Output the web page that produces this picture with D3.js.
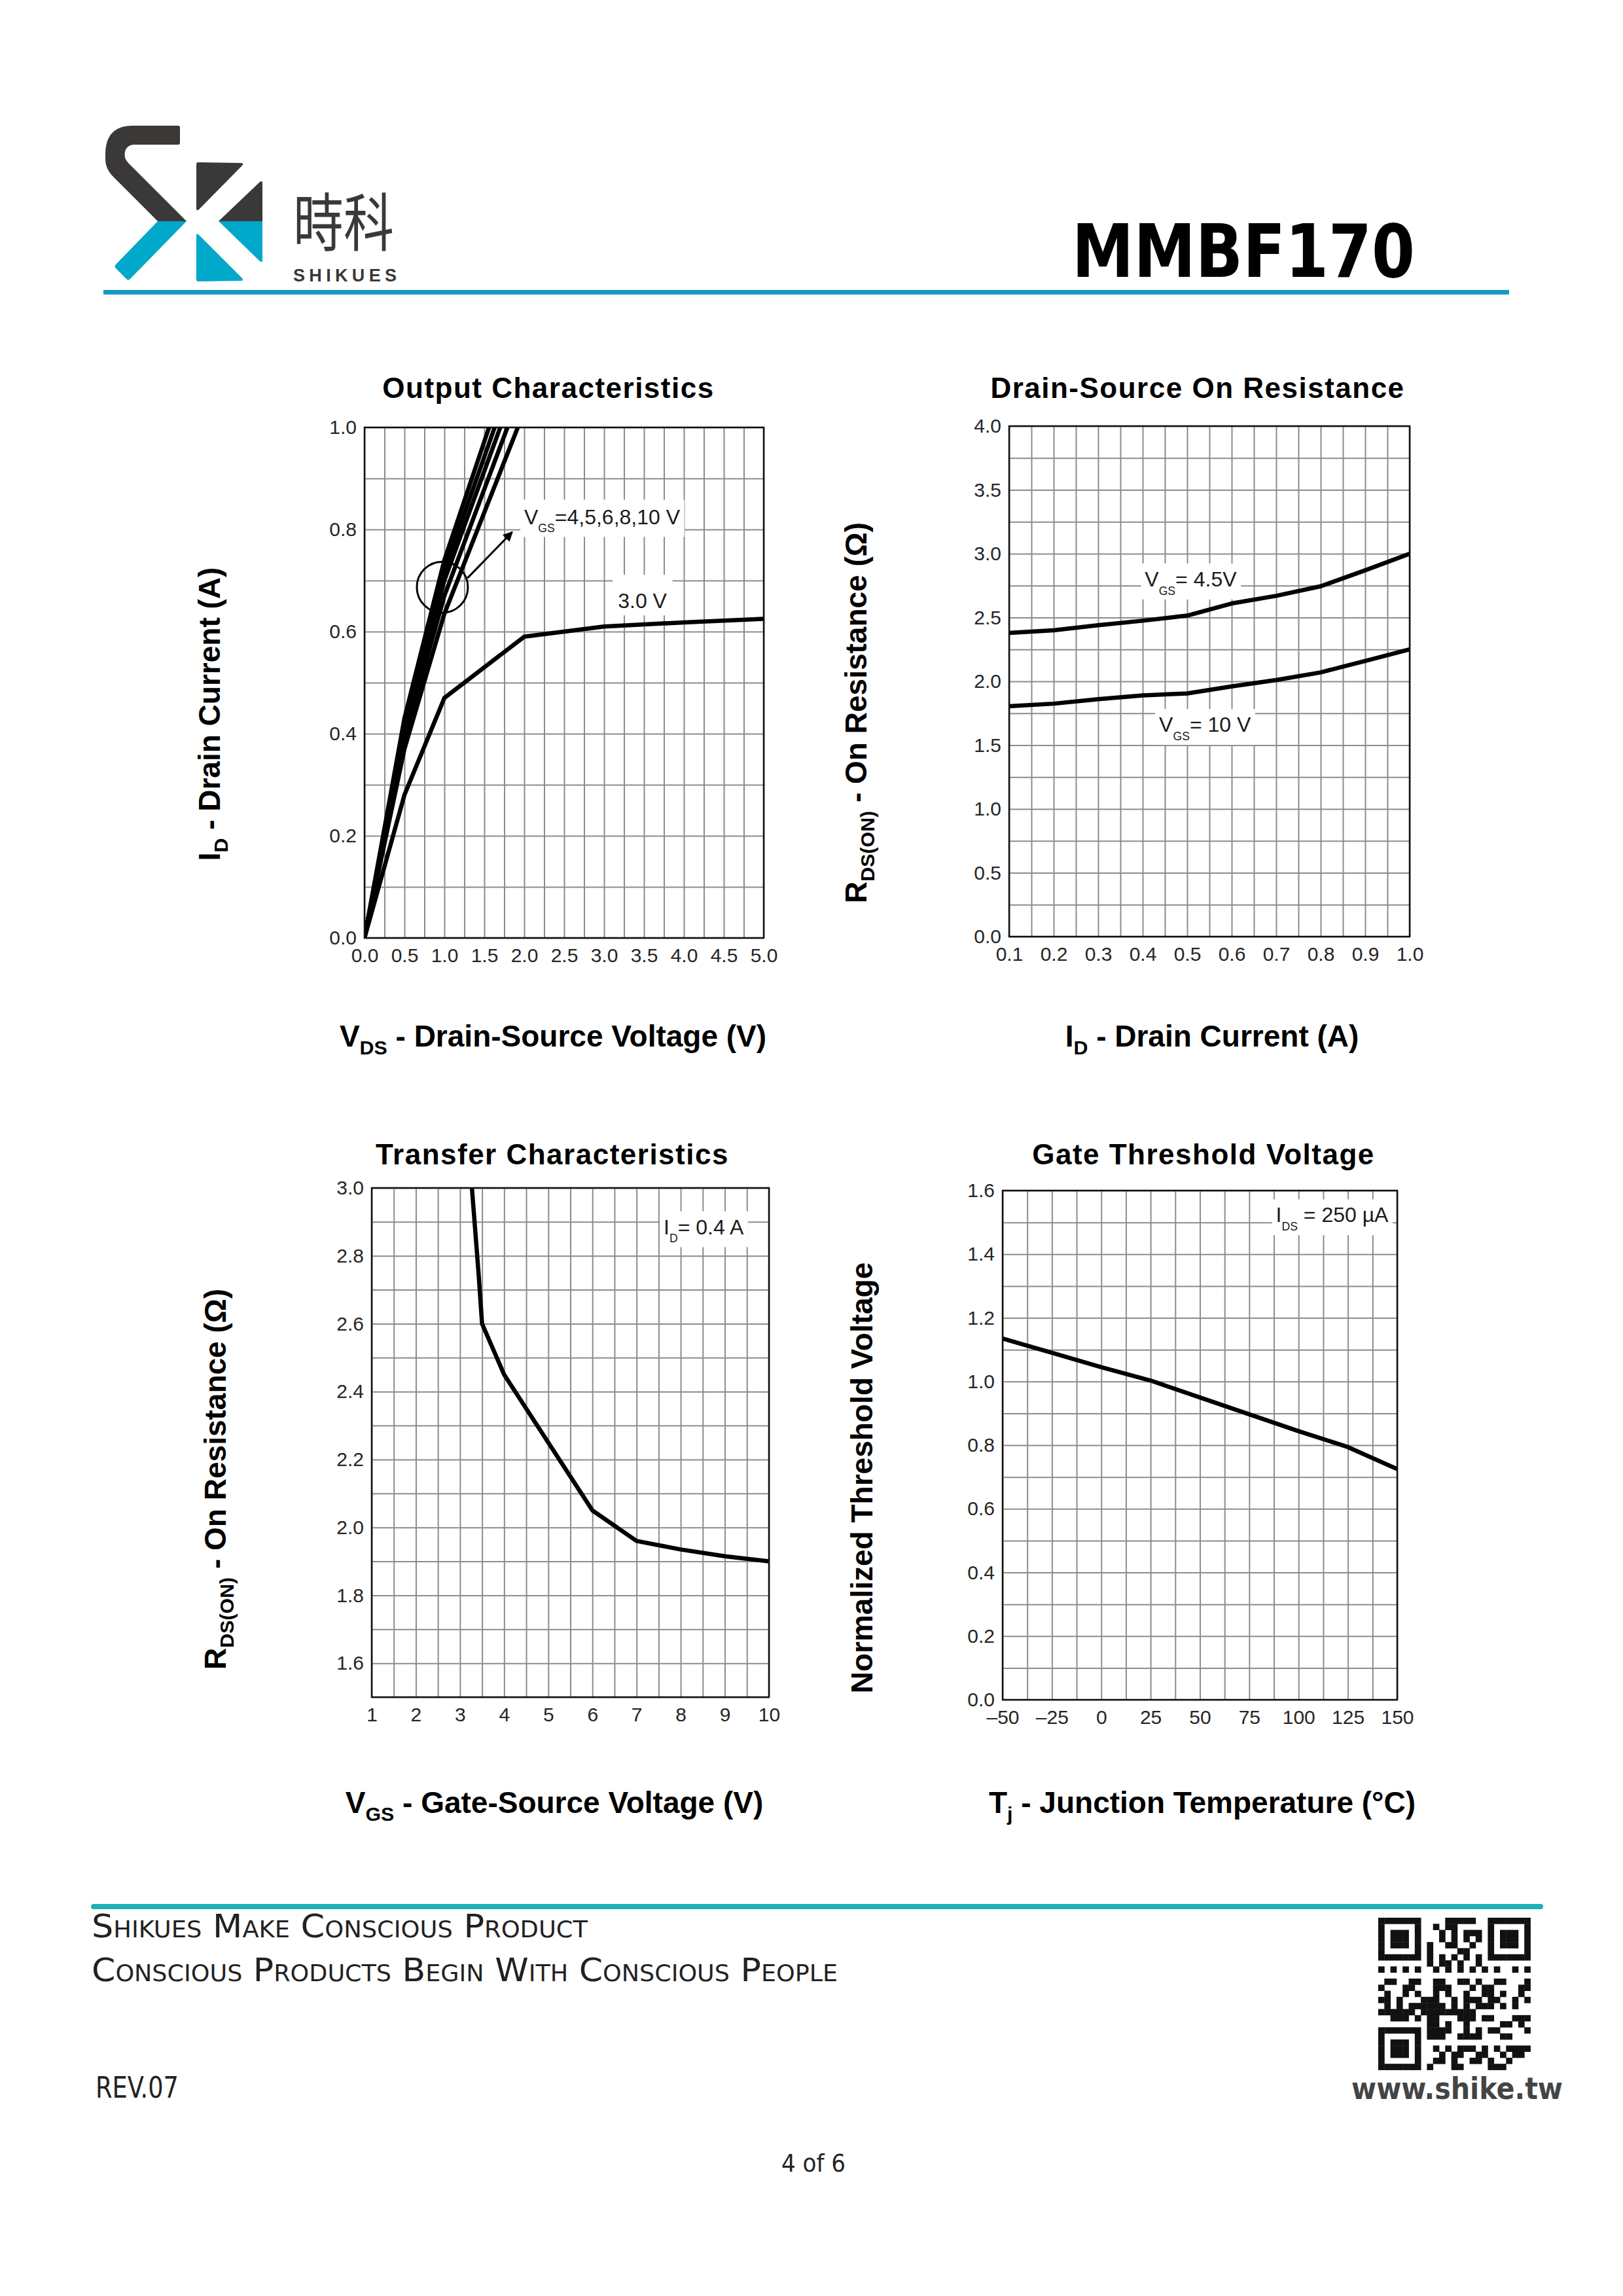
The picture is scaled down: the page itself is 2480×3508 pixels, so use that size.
<!DOCTYPE html>
<html><head><meta charset="utf-8">
<script src="https://cdn.jsdelivr.net/npm/d3@7"></script>
<style>html,body{margin:0;padding:0;background:#fff;}svg{display:block;}</style>
</head><body>
<svg id="page" width="2480" height="3508" xmlns="http://www.w3.org/2000/svg"></svg>
<script>
// ================= DATA =================
// Output Characteristics: [VDS (V), ID (A)] per VGS
const outVgs10 = [[0,0],[0.5,0.43],[1.0,0.74],[1.56,1.0]];
const outVgs8  = [[0,0],[0.5,0.42],[1.0,0.72],[1.63,1.0]];
const outVgs6  = [[0,0],[0.5,0.41],[1.0,0.70],[1.70,1.0]];
const outVgs5  = [[0,0],[0.5,0.39],[1.0,0.67],[1.79,1.0]];
const outVgs4  = [[0,0],[0.5,0.37],[1.0,0.635],[1.92,1.0]];
const outVgs3  = [[0,0],[0.5,0.28],[1.0,0.47],[2.0,0.59],[3.0,0.61],[4.0,0.618],[5.0,0.625]];
const outXTicks = [0,0.5,1.0,1.5,2.0,2.5,3.0,3.5,4.0,4.5,5.0];
const outYTicks = [0,0.2,0.4,0.6,0.8,1.0];

// Drain-Source On Resistance vs ID
const rdsId    = [0.1,0.2,0.3,0.4,0.5,0.6,0.7,0.8,0.9,1.0];
const rdsVgs45 = [2.38,2.40,2.44,2.475,2.515,2.61,2.67,2.745,2.87,3.0];
const rdsVgs10 = [1.805,1.825,1.86,1.89,1.905,1.96,2.01,2.07,2.16,2.25];
const rdsXTicks = [0.1,0.2,0.3,0.4,0.5,0.6,0.7,0.8,0.9,1.0];
const rdsYTicks = [0,0.5,1.0,1.5,2.0,2.5,3.0,3.5,4.0];

// Transfer Characteristics: RDS(ON) vs VGS at ID = 0.4 A
const trVgs = [3.27,3.42,3.5,4,5,6,7,8,9,10];
const trRds = [3.0,2.75,2.6,2.45,2.25,2.05,1.96,1.935,1.915,1.9];
const trXTicks = [1,2,3,4,5,6,7,8,9,10];
const trYTicks = [1.6,1.8,2.0,2.2,2.4,2.6,2.8,3.0];

// Gate Threshold Voltage (normalized) vs Tj
const vthTemp = [-50,-25,0,25,50,75,100,125,150];
const vthNorm = [1.135,1.09,1.045,1.003,0.95,0.897,0.844,0.794,0.725];
const vthXTicks = [-50,-25,0,25,50,75,100,125,150];
const vthYTicks = [0,0.2,0.4,0.6,0.8,1.0,1.2,1.4,1.6];

// ================= DRAWING =================
const svg = d3.select("#page");
const FONT = "'Liberation Sans', Arial, Helvetica, sans-serif";
const defs = svg.append("defs");
defs.append("marker").attr("id","arrowHead").attr("viewBox","0 0 10 10")
  .attr("refX",9).attr("refY",5).attr("markerWidth",7).attr("markerHeight",5)
  .attr("orient","auto").attr("markerUnits","strokeWidth")
  .append("path").attr("d","M0,0 L10,5 L0,10 Z").attr("fill","#000");

svg.append("rect").attr("width",2480).attr("height",3508).attr("fill","#fff");

// ---------- Header ----------
const logo = svg.append("g");
const dark = "#3b3838", blue = "#00a8c9";
logo.append("path").attr("fill",dark)
  .attr("d","M272,192 L203,192 Q161,192 161,236 L161,243 Q161,258 173,270 L241,338 L285,338 L196,249 Q189,242 191,232 Q193,222 204,221 L272,221 Q275,221 275,218 L275,195 Q275,192 272,192 Z");
logo.append("path").attr("fill",blue)
  .attr("d","M241,338 L285,338 L199,426 Q196,429 193,426 L177,410 Q174,407 177,404 Z");
logo.append("path").attr("fill",dark).attr("d","M303,248 L369,249 Q373,250 370,253 L304,320 Q300,323 300,318 L300,251 Q300,248 303,248 Z");
logo.append("path").attr("fill",dark).attr("d","M334,338 L397,278 Q401,275 401,280 L401,338 Z");
logo.append("path").attr("fill",blue).attr("d","M334,338 L401,338 L401,397 Q401,402 397,399 Z");
logo.append("path").attr("fill",blue).attr("d","M300,360 Q300,355 304,359 L370,425 Q373,429 368,429 L303,430 Q300,430 300,427 Z");
svg.append("text").attr("x",448).attr("y",375).attr("font-family","'Noto Sans CJK TC','Noto Sans CJK SC',sans-serif")
  .attr("font-size",96).attr("font-weight",400).attr("fill",dark)
  .attr("textLength",154).attr("lengthAdjust","spacingAndGlyphs").text("時科");
svg.append("text").attr("x",448).attr("y",430).attr("font-family",FONT).attr("font-weight","bold")
  .attr("font-size",27).attr("fill",dark).attr("textLength",158).attr("lengthAdjust","spacing").text("SHIKUES");
svg.append("text").attr("x",1638).attr("y",423).attr("font-family","'DejaVu Sans',sans-serif").attr("font-weight","bold")
  .attr("font-size",112).attr("fill","#000").attr("textLength",524).attr("lengthAdjust","spacingAndGlyphs").text("MMBF170");
svg.append("line").attr("x1",158).attr("x2",2306).attr("y1",446.5).attr("y2",446.5)
  .attr("stroke","#1799c0").attr("stroke-width",7);

// ---------- helpers ----------
function rich(textSel, parts, fs, subScale, subDy){
  let lowered = false;
  parts.forEach(p=>{
    const t = textSel.append("tspan").text(p.t);
    if(p.sub){
      t.attr("font-size",fs*subScale).attr("dy",lowered?0:fs*subDy);
      lowered = true;
    } else {
      if(lowered){ t.attr("dy",-fs*subDy); lowered=false; }
    }
  });
  return textSel;
}

const AFS = 32;
function annotate(g, x, y, parts, anchor, pad, padTop){
  const a = g.append("g");
  const t = a.append("text").attr("x",x).attr("y",y).attr("font-family",FONT)
    .attr("font-size",AFS).attr("fill","#1a1a1a").attr("text-anchor",anchor);
  rich(t, parts, AFS, 0.55, 0.4);
  const b = t.node().getBBox();
  a.insert("rect","text").attr("x",b.x-pad).attr("y",b.y-padTop).attr("width",b.width+2*pad)
    .attr("height",b.height+padTop+pad/2).attr("fill","#fff");
  return a;
}

let clipId = 0;
function chart(cfg){
  const x = d3.scaleLinear().domain(cfg.xDomain).range([cfg.x0,cfg.x1]);
  const y = d3.scaleLinear().domain(cfg.yDomain).range([cfg.y1,cfg.y0]);
  const g = svg.append("g");
  const h = cfg.y1-cfg.y0, w = cfg.x1-cfg.x0;
  const xGrid = d3.range(0, Math.round((cfg.xDomain[1]-cfg.xDomain[0])/cfg.xStep)+1).map(i=>+(cfg.xDomain[0]+i*cfg.xStep).toFixed(4));
  const yGrid = d3.range(0, Math.round((cfg.yDomain[1]-cfg.yDomain[0])/cfg.yStep)+1).map(i=>+(cfg.yDomain[0]+i*cfg.yStep).toFixed(4));
  const styleGrid = s=>{ s.select(".domain").remove(); s.selectAll("line").attr("stroke","#8c8c8c").attr("stroke-width",2); };
  g.append("g").attr("transform",`translate(0,${cfg.y1})`)
    .call(d3.axisBottom(x).tickValues(xGrid).tickSize(-h).tickFormat(""))
    .call(styleGrid);
  g.append("g").attr("transform",`translate(${cfg.x0},0)`)
    .call(d3.axisLeft(y).tickValues(yGrid).tickSize(-w).tickFormat(""))
    .call(styleGrid);
  const styleLab = s=>{ s.select(".domain").remove(); s.attr("font-family",FONT).attr("font-size",30);
    s.selectAll("text").attr("fill","#262626"); };
  g.append("g").attr("transform",`translate(0,${cfg.y1})`)
    .call(d3.axisBottom(x).tickValues(cfg.xTicks).tickSize(0).tickPadding(16).tickFormat(cfg.xFmt))
    .call(styleLab);
  g.append("g").attr("transform",`translate(${cfg.x0},0)`)
    .call(d3.axisLeft(y).tickValues(cfg.yTicks).tickSize(0).tickPadding(12).tickFormat(cfg.yFmt))
    .call(styleLab);
  const cid = "clip"+(clipId++);
  defs.append("clipPath").attr("id",cid).append("rect")
    .attr("x",cfg.x0).attr("y",cfg.y0).attr("width",w).attr("height",h);
  const plot = g.append("g").attr("clip-path",`url(#${cid})`);
  g.append("rect").attr("x",cfg.x0).attr("y",cfg.y0).attr("width",w).attr("height",h)
    .attr("fill","none").attr("stroke","#111").attr("stroke-width",2.5);
  // title
  g.append("text").attr("x",cfg.titleX).attr("y",cfg.y0-cfg.titleGap).attr("text-anchor","middle")
    .attr("font-family",FONT).attr("font-weight","bold").attr("font-size",44)
    .attr("letter-spacing",1.5).attr("fill","#000").text(cfg.title);
  // x label
  const xl = g.append("text").attr("x",cfg.xLabelX).attr("y",cfg.xLabelY).attr("text-anchor","middle")
    .attr("font-family",FONT).attr("font-weight","bold").attr("font-size",46).attr("fill","#000");
  rich(xl, cfg.xLabel, 46, 0.66, 0.25);
  const yl = g.append("text").attr("transform",`translate(${cfg.yLabelX},${cfg.yLabelY}) rotate(-90)`)
    .attr("text-anchor","middle").attr("font-family",FONT).attr("font-weight","bold")
    .attr("font-size",46).attr("fill","#000");
  rich(yl, cfg.yLabel, 46, 0.66, 0.25);
  return {g, plot, x, y};
}

const f1 = d=>d.toFixed(1);

// ---------- Chart 1: Output Characteristics ----------
const c1 = chart({x0:557,x1:1167,y0:653,y1:1433,xDomain:[0,5],yDomain:[0,1],xStep:0.25,yStep:0.1,
  xTicks:outXTicks,yTicks:outYTicks,xFmt:f1,yFmt:f1,title:"Output Characteristics",titleX:838,titleGap:45,
  xLabel:[{t:"V"},{t:"DS",sub:true},{t:" - Drain-Source Voltage (V)"}],xLabelX:845,xLabelY:1599,
  yLabel:[{t:"I"},{t:"D",sub:true},{t:" - Drain Current (A)"}],yLabelX:336,yLabelY:1091});
const line1 = d3.line().x(d=>c1.x(d[0])).y(d=>c1.y(d[1]));
[outVgs4,outVgs5,outVgs6,outVgs8,outVgs10].forEach(s=>{
  c1.plot.append("path").attr("d",line1(s)).attr("fill","none").attr("stroke","#000").attr("stroke-width",6.5)
    .attr("stroke-linejoin","round");
});
c1.plot.append("path").attr("d",line1(outVgs3)).attr("fill","none").attr("stroke","#000").attr("stroke-width",6.5)
  .attr("stroke-linejoin","round");
c1.g.append("circle").attr("cx",c1.x(0.975)).attr("cy",c1.y(0.687)).attr("r",39)
  .attr("fill","none").attr("stroke","#000").attr("stroke-width",3);
c1.g.append("line").attr("x1",c1.x(1.29)).attr("y1",c1.y(0.705)).attr("x2",c1.x(1.85)).attr("y2",c1.y(0.795))
  .attr("stroke","#000").attr("stroke-width",3).attr("marker-end","url(#arrowHead)");
annotate(c1.g, c1.x(2.0), c1.y(0.825)+11, [{t:"V"},{t:"GS",sub:true},{t:"=4,5,6,8,10 V"}], "start", 6, 8);
annotate(c1.g, c1.x(3.48), c1.y(0.66)+11, [{t:"3.0 V"}], "middle", 8, 22);

// ---------- Chart 2: Drain-Source On Resistance ----------
const c2 = chart({x0:1542,x1:2154,y0:651,y1:1431,xDomain:[0.1,1.0],yDomain:[0,4],xStep:0.05,yStep:0.25,
  xTicks:rdsXTicks,yTicks:rdsYTicks,xFmt:f1,yFmt:f1,title:"Drain-Source On Resistance",titleX:1830,titleGap:43,
  xLabel:[{t:"I"},{t:"D",sub:true},{t:" - Drain Current (A)"}],xLabelX:1852,xLabelY:1599,
  yLabel:[{t:"R"},{t:"DS(ON)",sub:true},{t:" - On Resistance (Ω)"}],yLabelX:1324,yLabelY:1089});
const line2a = d3.line().x((d,i)=>c2.x(rdsId[i])).y(d=>c2.y(d));
[rdsVgs45, rdsVgs10].forEach(s=>{
  c2.plot.append("path").attr("d",line2a(s)).attr("fill","none").attr("stroke","#000").attr("stroke-width",6.5)
    .attr("stroke-linejoin","round");
});
annotate(c2.g, c2.x(0.508), c2.y(2.80)+11, [{t:"V"},{t:"GS",sub:true},{t:"= 4.5V"}], "middle", 6, 6);
annotate(c2.g, c2.x(0.54), c2.y(1.66)+11, [{t:"V"},{t:"GS",sub:true},{t:"= 10 V"}], "middle", 6, 6);

// ---------- Chart 3: Transfer Characteristics ----------
const c3 = chart({x0:568,x1:1175,y0:1815,y1:2593,xDomain:[1,10],yDomain:[1.5,3.0],xStep:0.5,yStep:0.1,
  xTicks:trXTicks,yTicks:trYTicks,xFmt:d=>String(d),yFmt:f1,title:"Transfer Characteristics",titleX:844,titleGap:36,
  xLabel:[{t:"V"},{t:"GS",sub:true},{t:" - Gate-Source Voltage (V)"}],xLabelX:847,xLabelY:2770,
  yLabel:[{t:"R"},{t:"DS(ON)",sub:true},{t:" - On Resistance (Ω)"}],yLabelX:345,yLabelY:2260});
const line3 = d3.line().x((d,i)=>c3.x(trVgs[i])).y(d=>c3.y(d));
c3.plot.append("path").attr("d",line3(trRds)).attr("fill","none").attr("stroke","#000").attr("stroke-width",6.5)
  .attr("stroke-linejoin","round");
annotate(c3.g, c3.x(8.52), c3.y(2.885)+11, [{t:"I"},{t:"D",sub:true},{t:"= 0.4 A"}], "middle", 6, 6);

// ---------- Chart 4: Gate Threshold Voltage ----------
const c4 = chart({x0:1532,x1:2135,y0:1819,y1:2597,xDomain:[-50,150],yDomain:[0,1.6],xStep:12.5,yStep:0.1,
  xTicks:vthXTicks,yTicks:vthYTicks,xFmt:d=>d<0?"\u2013"+Math.abs(d):String(d),yFmt:f1,
  title:"Gate Threshold Voltage",titleX:1839,titleGap:40,
  xLabel:[{t:"T"},{t:"j",sub:true},{t:" - Junction Temperature (°C)"}],xLabelX:1837,xLabelY:2770,
  yLabel:[{t:"Normalized Threshold Voltage"}],yLabelX:1333,yLabelY:2258});
const line4 = d3.line().x((d,i)=>c4.x(vthTemp[i])).y(d=>c4.y(d));
c4.plot.append("path").attr("d",line4(vthNorm)).attr("fill","none").attr("stroke","#000").attr("stroke-width",6.5)
  .attr("stroke-linejoin","round");
annotate(c4.g, c4.x(117), c4.y(1.523)+11, [{t:"I"},{t:"DS",sub:true},{t:" = 250 µA"}], "middle", 6, 6);

// ---------- Footer ----------
svg.append("line").attr("x1",143).attr("x2",2354).attr("y1",2913).attr("y2",2913)
  .attr("stroke","#1db1b6").attr("stroke-width",8).attr("stroke-linecap","round");
const CF = "'DejaVu Sans Condensed','Liberation Sans Narrow','DejaVu Sans',sans-serif";
svg.append("text").attr("x",140).attr("y",2960).attr("font-family",CF).attr("font-size",50)
  .attr("font-variant","small-caps").attr("fill","#222").attr("textLength",758).attr("lengthAdjust","spacingAndGlyphs")
  .text("Shikues Make Conscious Product");
svg.append("text").attr("x",140).attr("y",3027).attr("font-family",CF).attr("font-size",50)
  .attr("font-variant","small-caps").attr("fill","#222").attr("textLength",1140).attr("lengthAdjust","spacingAndGlyphs")
  .text("Conscious Products Begin With Conscious People");
svg.append("text").attr("x",146).attr("y",3205).attr("font-family",CF).attr("font-size",44)
  .attr("fill","#222").attr("textLength",127).attr("lengthAdjust","spacingAndGlyphs").text("REV.07");
svg.append("text").attr("x",2065).attr("y",3207).attr("font-family",CF).attr("font-weight","bold").attr("font-size",46)
  .attr("fill","#444").attr("textLength",323).attr("lengthAdjust","spacingAndGlyphs").text("www.shike.tw");
svg.append("text").attr("x",1243).attr("y",3318).attr("text-anchor","middle").attr("font-family",CF).attr("font-size",38)
  .attr("fill","#222").attr("textLength",98).attr("lengthAdjust","spacingAndGlyphs").text("4 of 6");

// QR-like emblem (decorative)
const qr = svg.append("g");
const N = 25, qx = 2106, qy = 2930, ms = 9.3;
function finder(r,c){ return (r>=0&&r<7&&c>=0&&c<7); }
for(let r=0;r<N;r++){
  for(let c=0;c<N;c++){
    let on=false, inF=false;
    [[0,0],[0,N-7],[N-7,0]].forEach(([fr,fc])=>{
      const rr=r-fr, cc=c-fc;
      if(finder(rr,cc)){ inF=true;
        on = (rr===0||rr===6||cc===0||cc===6) || (rr>=2&&rr<=4&&cc>=2&&cc<=4); }
    });
    if(!inF){
      const nearF = (r<8&&c<8)||(r<8&&c>=N-8)||(r>=N-8&&c<8);
      if(nearF) on=false;
      else if(r===6) on = c%2===0;
      else if(c===6) on = r%2===0;
      else on = ((r*131 + c*71 + r*c*17 + (r^c)*7) % 11) < 5;
    }
    if(on) qr.append("rect").attr("x",qx+c*ms).attr("y",qy+r*ms).attr("width",ms+0.4).attr("height",ms+0.4).attr("fill","#111");
  }
}
</script>
</body></html>
